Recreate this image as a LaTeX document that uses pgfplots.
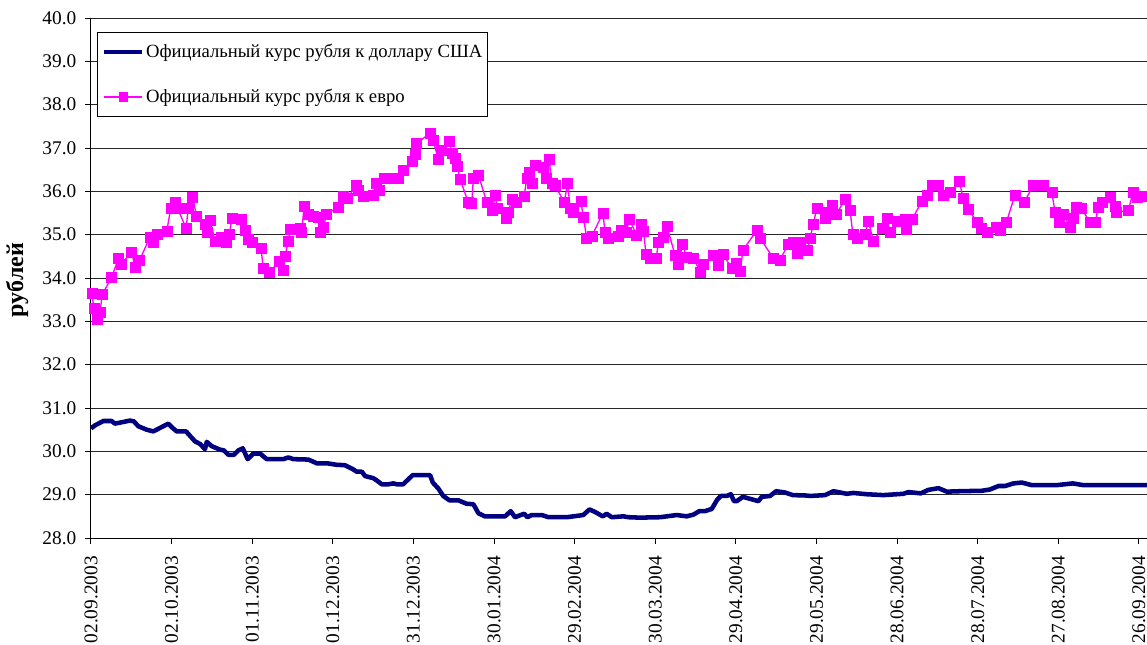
\documentclass[border=0pt]{standalone}
\usepackage{pgfplots}
\pgfplotsset{compat=1.18}
\usepackage{pgfplotstable}
\usepackage{fontspec}
\setmainfont{Liberation Serif}
\definecolor{usd}{RGB}{0,0,128}
\definecolor{eur}{RGB}{255,0,255}
\pgfplotsset{
  usdleg/.style={legend image code/.code={\draw[##1] (0pt,0pt) -- (29pt,0pt);}},
  eurleg/.style={legend image code/.code={\draw[##1, mark repeat=2, mark phase=2, mark size=3.2pt] plot coordinates {(0pt,0pt) (14.5pt,0pt) (29pt,0pt)};}},
}

\pgfplotstableread{
day val
0 30.53
1.5 30.6
4.6 30.7
7.7 30.7
8.9 30.64
11.4 30.67
14.5 30.71
16.0 30.69
17.6 30.58
20.7 30.5
23.2 30.46
26.3 30.56
28.8 30.64
30.0 30.56
31.9 30.46
35.4 30.46
36.8 30.36
38.7 30.23
40.6 30.17
42.4 30.05
43.1 30.22
44.9 30.12
48.0 30.04
49.5 30.02
51.1 29.92
53.2 29.92
54.8 30.02
56.5 30.07
58.3 29.82
60.4 29.95
62.9 29.95
65.4 29.82
71.6 29.82
73.4 29.86
75.3 29.82
80.9 29.81
84.2 29.72
88.3 29.72
91.4 29.69
94.5 29.68
97.4 29.59
98.9 29.53
100.8 29.53
102.0 29.43
105.1 29.38
106.3 29.33
108.2 29.24
110.7 29.24
112.5 29.26
113.8 29.24
116.2 29.24
117.5 29.32
119.7 29.45
126.2 29.45
127.2 29.28
129.3 29.14
131.1 28.97
133.4 28.87
136.7 28.87
139.8 28.79
142.3 28.78
144.2 28.57
146.6 28.5
149.1 28.5
154.1 28.5
156.2 28.62
157.8 28.48
161.2 28.56
162.4 28.48
164.0 28.53
167.8 28.53
170.2 28.48
177.1 28.48
183.2 28.53
185.5 28.66
187.6 28.6
190.5 28.5
191.9 28.56
193.8 28.48
198.1 28.5
200.0 28.48
204.3 28.47
211.8 28.48
218.0 28.53
221.7 28.5
224.2 28.54
226.4 28.62
228.5 28.62
231.0 28.67
233.1 28.89
234.4 28.97
236.6 28.97
238.1 29.01
239.3 28.85
240.3 28.85
242.6 28.95
248.4 28.85
249.6 28.95
252.7 28.97
255.0 29.08
258.3 29.05
261.2 28.99
266.4 28.98
267.6 28.97
273.2 28.99
276.3 29.08
281.3 29.02
283.7 29.04
288.7 29.01
294.9 28.99
302.3 29.02
304.2 29.06
308.8 29.03
311.6 29.11
315.4 29.15
318.5 29.07
323.4 29.08
331.5 29.09
334.6 29.12
337.7 29.2
340.2 29.2
343.3 29.26
346.4 29.28
350.1 29.22
353.2 29.22
359.4 29.22
365.4 29.26
369.3 29.22
376.8 29.22
393 29.22
}\usdtable

\pgfplotstableread{
day val
0.3 33.64
1.1 33.3
2.3 33.05
3.3 33.2
4.2 33.62
7.7 34.02
10.2 34.45
11.1 34.31
15.1 34.6
16.4 34.25
18.0 34.4
22.0 34.95
23.2 34.83
24.7 35.02
28.2 35.08
29.7 35.62
31.3 35.75
32.1 35.62
35.4 35.15
36.2 35.62
37.8 35.87
39.3 35.43
42.4 35.25
43.3 35.06
44.3 35.33
46.2 34.85
48.6 34.95
50.2 34.83
51.5 35.0
52.4 35.37
56.1 35.35
57.3 35.1
58.5 34.9
60.2 34.82
63.3 34.68
64.1 34.22
66.4 34.14
70.1 34.38
71.4 34.18
72.2 34.5
73.4 34.85
74.3 35.12
77.8 35.14
78.4 35.05
79.3 35.66
80.9 35.48
82.7 35.43
84.6 35.4
85.2 35.06
86.5 35.18
87.7 35.48
92.0 35.64
93.9 35.89
95.2 35.83
98.9 36.15
99.5 36.02
101.3 35.89
105.1 35.92
106.2 36.18
107.2 36.02
109.0 36.31
112.5 36.31
114.4 36.31
116.2 36.48
119.4 36.69
120.6 36.85
121.2 37.1
126.2 37.35
127.2 37.18
129.3 36.75
130.2 36.95
133.4 37.15
134.3 36.87
135.5 36.77
136.3 36.58
137.3 36.29
140.4 35.75
141.7 35.72
142.3 36.31
144.2 36.37
147.3 35.75
149.5 35.56
150.4 35.92
151.2 35.62
154.5 35.38
155.3 35.52
156.6 35.82
158.2 35.74
161.2 35.89
162.2 36.31
163.1 36.45
164.4 36.18
165.3 36.6
168.3 36.56
169.4 36.31
170.5 36.74
171.5 36.18
172.7 36.14
176.1 35.75
177.4 36.18
178.3 35.62
179.3 35.51
182.3 35.77
183.2 35.41
184.5 34.92
186.4 34.97
190.5 35.5
191.3 35.06
192.5 34.92
196.3 34.97
197.5 35.1
199.1 35.06
200.4 35.35
203.1 34.98
204.6 35.23
205.6 35.08
206.6 34.54
208.1 34.45
210.3 34.45
211.2 34.82
213.0 34.95
214.3 35.2
217.4 34.52
218.6 34.31
220.2 34.79
221.5 34.48
224.2 34.46
226.7 34.14
227.9 34.31
231.4 34.52
233.5 34.29
235.3 34.54
238.5 34.22
240.1 34.33
241.6 34.15
242.6 34.64
247.8 35.1
249.0 34.92
254.0 34.45
256.4 34.41
259.5 34.79
261.4 34.82
262.7 34.56
263.9 34.82
266.6 34.64
267.6 34.92
268.8 35.25
270.1 35.6
273.2 35.38
274.4 35.52
275.7 35.69
277.5 35.48
280.6 35.82
282.5 35.56
283.5 35.02
285.0 34.92
288.1 35.02
289.3 35.31
291.2 34.85
294.3 35.15
296.2 35.37
297.4 35.05
299.9 35.31
303.0 35.35
303.4 35.12
305.5 35.35
309.2 35.77
311.1 35.91
312.9 36.14
315.4 36.15
317.3 35.92
319.7 35.97
323.2 36.23
324.5 35.85
326.5 35.58
329.9 35.28
331.5 35.15
333.6 35.06
336.8 35.17
338.3 35.1
340.6 35.28
343.9 35.92
347.3 35.75
350.7 36.14
354.4 36.14
357.6 35.97
358.8 35.51
360.4 35.28
361.7 35.48
364.4 35.18
365.6 35.38
366.6 35.64
368.7 35.6
371.8 35.28
373.7 35.28
374.9 35.64
376.2 35.75
379.2 35.87
381.1 35.66
381.7 35.52
386.1 35.56
387.7 35.97
389.4 35.87
391.6 35.89
}\eurtable

\begin{document}
\begin{tikzpicture}
\begin{axis}[
  name=ax,
  scale only axis, width=792pt, height=390pt,
  xmin=0, xmax=393, ymin=28, ymax=40,
  axis lines=left,
  axis line style={-, black, line width=0.75pt},
  clip mode=individual,
  ytick={28,29,...,40},
  yticklabel style={/pgf/number format/.cd, fixed, fixed zerofill, precision=1, /tikz/.cd, xshift=-3pt},
  /pgf/number format/assume math mode=true,
  ymajorgrids,
  grid style={black!85, line width=0.75pt},
  xtick={0,30,60,90,120,150,180,210,240,270,300,330,360,390},
  xticklabels={02.09.2003,02.10.2003,01.11.2003,01.12.2003,31.12.2003,30.01.2004,29.02.2004,30.03.2004,29.04.2004,29.05.2004,28.06.2004,28.07.2004,27.08.2004,26.09.2004},
  xticklabel style={rotate=90, anchor=east, inner xsep=9pt},
  tick align=outside, major tick length=4.5pt,
  tick style={black, line width=0.75pt},
  font=\fontsize{14.5}{17}\selectfont,
  ylabel={рублей},
  ylabel style={at={(axis description cs:-0.070,0.496)}, anchor=center, font=\fontsize{18}{20}\selectfont\bfseries},
  legend cell align=left,
  legend style={at={(rel axis cs:0.0057,0.973)}, anchor=north west, draw=black, line width=0.75pt,
    font=\fontsize{14}{16}\selectfont, row sep=20pt, inner xsep=3pt, inner ysep=8pt,
    nodes={inner sep=1pt}},
]
\addplot[usd, line width=3.4pt, line join=round, no markers, usdleg] table[x=day, y=val] {\usdtable};
\addlegendentry{Официальный курс рубля к доллару США}
\addplot[eur, line width=1pt, mark=square*, mark size=3.75pt, mark options={solid, fill=eur, draw=eur, line width=0.4pt}, eurleg] table[x=day, y=val] {\eurtable};
\addlegendentry{Официальный курс рубля к евро}
\end{axis}
\pgfresetboundingbox
\path[use as bounding box] ([xshift=-68.25pt,yshift=-79.5pt]ax.south west) rectangle ([yshift=13.5pt]ax.north east);
\end{tikzpicture}
\end{document}
